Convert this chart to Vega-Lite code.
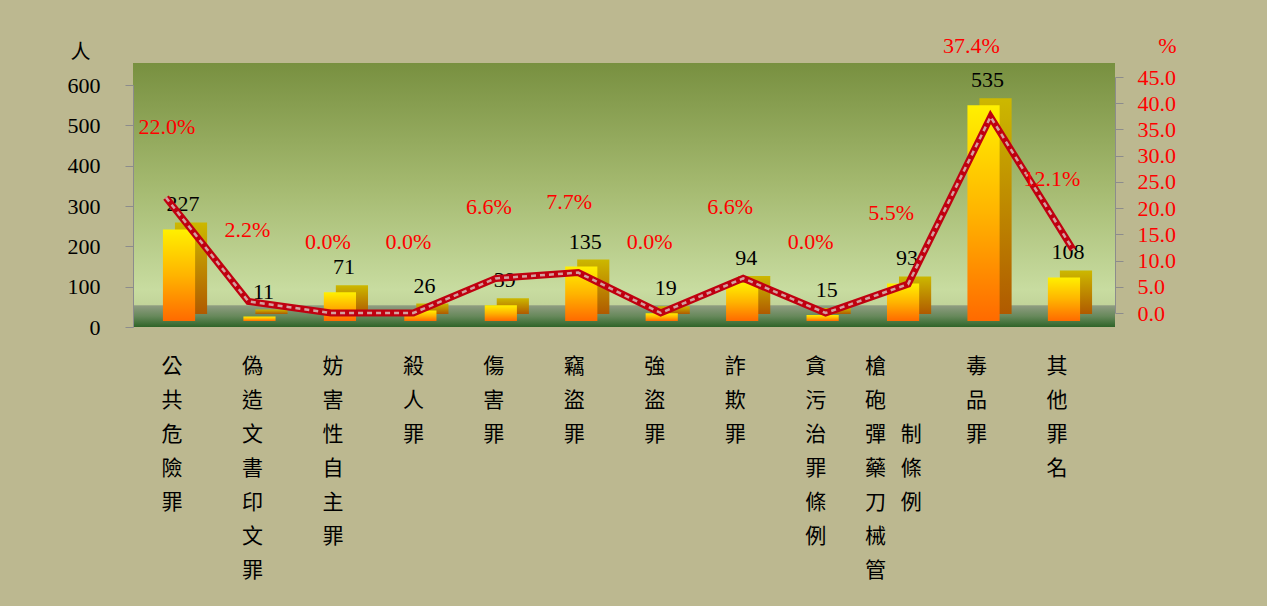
{
  "$schema": "https://vega.github.io/schema/vega-lite/v6.json",
  "autosize": "none",
  "width": 982,
  "height": 264,
  "padding": {"left": 133, "top": 63, "right": 152, "bottom": 279},
  "background": "#bcb890",
  "view": {
    "stroke": null,
    "fill": {
      "gradient": "linear", "x1": 0, "y1": 0, "x2": 0, "y2": 1,
      "stops": [
        {"offset": 0, "color": "#789040"},
        {"offset": 0.45, "color": "#a3b86e"},
        {"offset": 0.86, "color": "#c8dca0"},
        {"offset": 0.915, "color": "#c2d49a"},
        {"offset": 0.92, "color": "#8e9c80"},
        {"offset": 0.96, "color": "#66885a"},
        {"offset": 1, "color": "#2e6428"}
      ]
    }
  },
  "data": {
    "values": [
      {"cat": "公共危險罪", "n": 227, "pct": 22.0},
      {"cat": "偽造文書印文罪", "n": 11, "pct": 2.2},
      {"cat": "妨害性自主罪", "n": 71, "pct": 0.0},
      {"cat": "殺人罪", "n": 26, "pct": 0.0},
      {"cat": "傷害罪", "n": 39, "pct": 6.6},
      {"cat": "竊盜罪", "n": 135, "pct": 7.7},
      {"cat": "強盜罪", "n": 19, "pct": 0.0},
      {"cat": "詐欺罪", "n": 94, "pct": 6.6},
      {"cat": "貪污治罪條例", "n": 15, "pct": 0.0},
      {"cat": "槍砲彈藥刀械管制條例", "n": 93, "pct": 5.5},
      {"cat": "毒品罪", "n": 535, "pct": 37.4},
      {"cat": "其他罪名", "n": 108, "pct": 12.1}
    ]
  },
  "layer": [
    {
      "encoding": {
        "x": {
          "field": "cat", "type": "nominal", "sort": null,
          "scale": {"range": [5.8, 971.2], "paddingInner": 0.6, "paddingOuter": 0.3},
          "axis": {
            "orient": "bottom", "title": null, "domain": false, "ticks": false,
            "labelAngle": 0, "labelFont": "Noto Sans CJK TC", "labelFontSize": 21,
            "labelLineHeight": 34, "labelPadding": 28,
            "labelAlign": {"condition": {"test": "datum.value == '槍砲彈藥刀械管制條例'", "value": "left"}, "value": "center"},
            "labelOffset": {"condition": {"test": "datum.value == '槍砲彈藥刀械管制條例'", "value": -38}, "value": -7},
            "labelColor": "#000000", "labelOverlap": false, "labelLimit": 0,
            "labelExpr": "datum.label == '槍砲彈藥刀械管制條例' ? ['槍','砲','彈\u2002\u2009制','藥\u2002\u2009條','刀\u2002\u2009例','械','管'] : split(datum.label, '')"
          }
        },
        "y": {
          "field": "n", "type": "quantitative",
          "scale": {"domain": [0, 600], "range": [264, 22], "nice": false},
          "axis": {
            "orient": "left", "title": "人", "titleAngle": 0, "titleX": -53, "titleY": -11,
            "titleAlign": "center", "titleBaseline": "middle", "titleFont": "Noto Sans CJK TC",
            "titleFontSize": 20, "titleFontWeight": "normal", "titleColor": "#000000",
            "values": [0, 100, 200, 300, 400, 500, 600],
            "labelFont": "Liberation Serif", "labelFontSize": 22, "labelColor": "#000000",
            "labelPadding": 25, "tickSize": 8, "tickColor": "#8c8c8c", "domainColor": "#8c8c8c",
            "grid": false
          }
        }
      },
      "layer": [
        {
          "mark": {
            "type": "bar", "xOffset": 12, "yOffset": -13, "y2Offset": -13,
            "fill": {
              "gradient": "linear", "x1": 0, "y1": 0, "x2": 0, "y2": 1,
              "stops": [{"offset": 0, "color": "#ccb800"}, {"offset": 1, "color": "#b05a00"}]
            }
          }
        },
        {
          "mark": {
            "type": "bar", "yOffset": -6, "y2Offset": -6,
            "fill": {
              "gradient": "linear", "x1": 0, "y1": 0, "x2": 0, "y2": 1,
              "stops": [{"offset": 0, "color": "#fff000"}, {"offset": 0.5, "color": "#ffb400"}, {"offset": 1, "color": "#ff6a00"}]
            }
          }
        },
        {
          "mark": {"type": "text", "dx": 4, "dy": -24, "baseline": "alphabetic", "fontSize": 22, "font": "Liberation Serif", "color": "#000000"},
          "encoding": {"text": {"field": "n", "type": "quantitative"}}
        }
      ]
    },
    {
      "encoding": {
        "x": {"field": "cat", "type": "nominal", "sort": null, "scale": {"type": "point", "range": [33, 940], "padding": 0}, "axis": null},
        "y": {
          "field": "pct", "type": "quantitative",
          "scale": {"domain": [0, 45], "range": [250, 14], "nice": false},
          "axis": {
            "orient": "right", "title": "%", "titleAngle": 0, "titleX": 52, "titleY": -18,
            "titleAlign": "center", "titleBaseline": "middle", "titleFont": "Liberation Serif",
            "titleFontSize": 22, "titleFontWeight": "normal", "titleColor": "#ff0000",
            "values": [0, 5, 10, 15, 20, 25, 30, 35, 40, 45], "format": ".1f",
            "labelFont": "Liberation Serif", "labelFontSize": 22, "labelColor": "#ff0000",
            "labelPadding": 14, "tickSize": 8, "tickColor": "#8c8c8c", "domainColor": "#8c8c8c",
            "grid": false
          }
        }
      },
      "layer": [
        {"mark": {"type": "line", "color": "#c00010", "strokeWidth": 7, "strokeJoin": "miter"}},
        {"mark": {"type": "line", "color": "#d4a0a0", "strokeWidth": 2.5, "strokeDash": [5, 4]}}
      ]
    },
    {
      "mark": {
        "type": "text", "text": {"expr": "format(datum.pct, '.1f') + '%'"},
        "dx": -12, "dy": -64, "baseline": "alphabetic", "fontSize": 22,
        "font": "Liberation Serif", "color": "#ff0000"
      },
      "encoding": {
        "x": {"field": "cat", "type": "nominal", "sort": null, "scale": {"range": [5.8, 971.2], "paddingInner": 0.6, "paddingOuter": 0.3}, "axis": null},
        "y": {"field": "pct", "type": "quantitative", "scale": {"domain": [0, 45], "range": [250, 14], "nice": false}, "axis": null}
      }
    }
  ],
  "resolve": {"scale": {"x": "independent", "y": "independent"}}
}
